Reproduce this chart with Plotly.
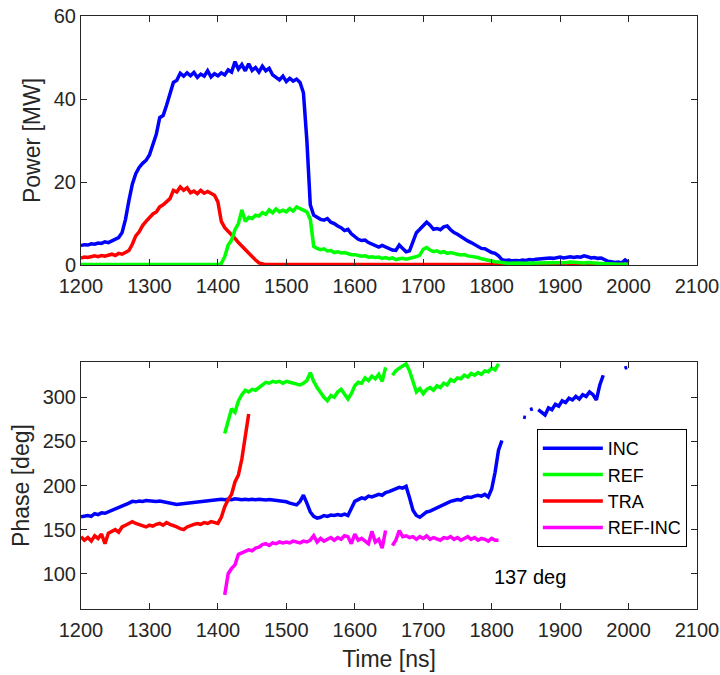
import plotly.graph_objects as go
from plotly.subplots import make_subplots

# ---- Power traces, sampled every 5 ns from 1200 to 2000 ns ----
t_pow = list(range(1200, 2001, 5))

p_inc = [
    4.7, 4.9, 4.8, 5.1, 5.0, 5.3, 5.2, 5.6, 5.4, 5.8,
    6.0, 6.6, 7.8, 11.0, 15.5, 19.5, 22.0, 23.5, 24.5, 25.2,
    26.5, 29.0, 31.5, 35.5, 36.0, 38.5, 41.0, 44.0, 44.5, 46.2,
    45.5, 46.3, 45.6, 46.4, 45.2, 46.0, 45.5, 46.8, 45.3, 46.1,
    45.6, 46.3, 45.8, 47.0, 46.5, 49.0, 47.2, 48.3, 46.8, 48.5,
    46.9, 47.6, 46.5, 47.9, 46.8, 47.4, 45.8, 45.2, 44.6, 45.5,
    44.2, 45.0, 44.3, 44.8, 44.0, 41.5, 30.0, 14.5, 12.0, 11.5,
    11.0, 10.8, 11.2, 10.3, 10.0, 9.4, 9.0, 8.3, 8.6, 7.5,
    6.8, 6.2, 5.9, 6.0, 5.4, 5.0, 4.6, 4.3, 4.7, 4.3,
    3.9, 3.6, 3.5, 4.8, 4.0, 3.2, 3.4, 5.8, 7.8, 8.6,
    9.6, 10.3, 9.6, 8.6, 8.8, 8.5, 9.2, 9.4, 8.5, 7.8,
    7.4, 6.8, 6.4, 5.8, 5.4, 5.0, 4.4, 4.0, 3.9, 3.4,
    3.0, 2.8, 2.2, 1.3, 1.1, 1.2, 1.0, 1.1, 1.0, 1.2,
    1.1, 1.3, 1.2, 1.4, 1.5, 1.4, 1.6, 1.7, 1.6, 1.8,
    1.9, 1.7, 1.9, 2.0, 1.8, 2.0, 1.9, 2.2, 2.0, 1.7,
    1.8, 1.6, 1.7, 1.2, 0.9, 0.8, 0.6, 0.7, 0.5, 1.2,
    0.6,
]

p_ref = [
    0.1, 0.1, 0.1, 0.1, 0.1, 0.1, 0.1, 0.1, 0.1, 0.1,
    0.1, 0.1, 0.1, 0.1, 0.1, 0.1, 0.1, 0.1, 0.1, 0.1,
    0.1, 0.1, 0.1, 0.1, 0.1, 0.1, 0.1, 0.1, 0.1, 0.1,
    0.1, 0.1, 0.1, 0.1, 0.1, 0.1, 0.1, 0.1, 0.1, 0.1,
    0.1, 0.4, 2.0, 4.8, 6.0, 8.5, 10.0, 13.3, 10.5, 11.5,
    11.2, 12.0, 11.8, 12.6, 12.2, 13.3, 12.6, 13.5, 12.8, 13.2,
    12.8, 13.6, 13.0, 14.0, 13.6, 13.2, 12.8, 11.0, 4.5, 4.0,
    3.7, 3.9, 3.4, 3.5, 3.0, 3.2, 2.9, 3.0, 2.7, 2.5,
    2.5, 2.3, 2.1, 2.2, 1.9, 2.0, 1.8, 1.9, 1.6, 1.8,
    1.5, 1.7, 1.3, 1.5, 1.6, 1.4, 1.5, 1.8, 2.0, 2.4,
    3.8, 4.2, 3.6, 3.2, 3.4, 3.0, 3.2, 2.8, 3.0, 2.7,
    2.6, 2.4, 2.5, 2.2, 2.1, 1.9, 1.8, 1.5, 1.3, 1.0,
    0.9, 0.8, 0.7, 0.5, 0.5, 0.4, 0.5, 0.4, 0.5, 0.4,
    0.4, 0.5, 0.4, 0.5, 0.6, 0.5, 0.6, 0.5, 0.6, 0.5,
    0.6, 0.5, 0.6, 0.7, 0.6, 0.5, 0.6, 0.5, 0.6, 0.5,
    0.5, 0.4, 0.4, 0.3, 0.3, 0.2, 0.2, 0.2, 0.2, 0.2,
    0.2,
]

p_tra = [
    1.7, 1.9, 1.8, 2.0, 2.2, 2.0, 2.3, 2.1, 2.4, 2.6,
    2.3, 2.8, 2.6, 3.0, 3.5, 5.0, 7.0, 8.0, 9.5, 10.5,
    11.5, 12.3, 12.8, 14.0, 14.5, 15.2, 16.0, 18.0, 17.6, 18.8,
    18.0, 18.6, 17.4, 17.8, 17.2, 18.0, 17.3, 17.7, 17.2, 16.8,
    15.2, 10.5, 9.0, 8.2, 7.3, 6.4, 5.4, 4.5, 3.6, 2.8,
    2.0, 1.2, 0.5, 0.2, 0.1, 0.1, 0.1, 0.1, 0.1, 0.1,
    0.1, 0.1, 0.1, 0.1, 0.1, 0.1, 0.1, 0.1, 0.1, 0.1,
    0.1, 0.1, 0.1, 0.1, 0.1, 0.1, 0.1, 0.1, 0.1, 0.1,
    0.1, 0.1, 0.1, 0.1, 0.1, 0.1, 0.1, 0.1, 0.1, 0.1,
    0.1, 0.1, 0.1, 0.1, 0.1, 0.1, 0.1, 0.1, 0.1, 0.1,
    0.1, 0.1, 0.1, 0.1, 0.1, 0.1, 0.1, 0.1, 0.1, 0.1,
    0.1, 0.1, 0.1, 0.1, 0.1, 0.1, 0.1, 0.1, 0.1, 0.1,
    0.1, 0.1, 0.1, 0.1, 0.1, 0.1, 0.1, 0.1, 0.1, 0.1,
    0.1, 0.1, 0.1, 0.1, 0.1, 0.1, 0.1, 0.1, 0.1, 0.1,
    0.1, 0.1, 0.1, 0.1, 0.1, 0.1, 0.1, 0.1, 0.1, 0.1,
    0.1, 0.1, 0.1, 0.1, 0.1, 0.1, 0.1, 0.1, 0.1, 0.1,
    0.1,
]

# ---- Phase traces (deg); None marks where the phase leaves the window ----
t_inc_main = list(range(1200, 1820, 5))
ph_inc_main = [
    164.5, 165.5, 166, 165, 168, 167, 169, 168.5, 170, 172,
    173, 175, 176, 178, 180, 182, 181.5, 182.5, 182, 183,
    182.5, 183, 182, 182.5, 181.5, 180.5, 179.5, 179, 178.5, 179,
    179.5, 180, 180.5, 181, 181, 182, 182.5, 183, 183.5, 184,
    184, 184.5, 184, 184.5, 184, 185, 184.5, 184, 184.5, 184,
    184.5, 184, 184.5, 184, 183.5, 184, 183.5, 183, 183.5, 182.5,
    181.5, 180, 178.5, 178, 182, 189, 180, 170, 165, 163,
    164, 166, 165, 166.5, 166, 167, 166, 167.5, 166, 174,
    182, 184, 186, 185, 188, 187, 189, 190, 189, 192,
    193, 195, 196, 198, 197, 199, 186, 172, 166, 164,
    167, 170, 171, 173, 175, 177, 179, 180, 182, 183,
    184, 183.5, 186, 187, 186.5, 188, 189, 188, 190, 187,
    196, 215, 240, 251,
]
t_inc_tail = [1846, 1850, 1856, 1860] + list(range(1868, 1968, 5)) + [1994, 1998]
ph_inc_tail = [
    277.5, 277, 286, 287,
    286, 283, 280, 288, 286, 292, 290, 296, 294, 299,
    297, 301, 298, 303, 301, 306, 303, 297, 314, 325,
    333, 334,
]
tail_breaks = [2, 4, 24]  # positions in the tail where a new piece starts

t_ph = list(range(1410, 1815, 5))
ph_ref = [
    259, 275, 287, 283, 296, 303, 308, 306, 309, 308,
    311, 315, 317, 316, 318, 317, 318, 316, 318, 317,
    316, 315, 314, 316, 319, 328, 318, 311, 305, 300,
    296, 302, 300, 306, 309, 303, 298, 304, 313, 317,
    316, 322, 319, 324, 321, 326, 318, 334, None, 325,
    330, 333, 336, 338, 330, 318, 306, 310, 304, 309,
    311, 308, 313, 311, 316, 314, 320, 318, 322, 321,
    325, 323, 327, 325, 328, 326, 330, 329, 333, 331,
    338,
]
ph_ref_inc = [
    76, 100, 106, 110, 122, 124, 125, 127, 126, 129,
    130, 133, 134, 132, 135, 134, 136, 135, 136, 135,
    137, 136, 135, 137, 136, 138, 143, 136, 140, 137,
    139, 141, 138, 141, 139, 143, 142, 134, 145, 138,
    140, 137, 134, 148, 136, 139, 129, 149, None, 132,
    138, 149, 142, 143, 141, 142, 139, 142, 140, 143,
    139, 141, 140, 138, 141, 140, 142, 139, 141, 138,
    140, 142, 139, 141, 138, 140, 139, 137, 140, 138,
    138,
]

t_tra_ph = list(range(1200, 1450, 5))
ph_tra = [
    142, 138, 141, 137, 143, 140, 145, 134, 146, 148,
    150, 147, 153, 155, 157, 159, 157, 156, 154, 153,
    155, 154, 156, 157, 155, 158, 156, 155, 153, 151,
    150, 153, 155, 156, 157, 156, 158, 157, 159, 158,
    157, 164, 176, 184, 190, 204, 212, 230, 256, 281,
]

# assemble the INC phase trace with breaks between its pieces
t_inc_ph = t_inc_main + [None]
v_inc_ph = ph_inc_main + [None]
for i, (tt, vv) in enumerate(zip(t_inc_tail, ph_inc_tail)):
    if i in tail_breaks:
        t_inc_ph.append(None)
        v_inc_ph.append(None)
    t_inc_ph.append(tt)
    v_inc_ph.append(vv)

BLUE, GREEN, RED, MAGENTA = "#0000FF", "#00FF00", "#FF0000", "#FF00FF"
LW = 3.5
FONT = "Liberation Sans, Arial, Helvetica, sans-serif"
AXIS_COLOR = "#262626"

fig = make_subplots(rows=2, cols=1, vertical_spacing=0.16)

# power panel
for y, c in ((p_inc, BLUE), (p_tra, RED), (p_ref, GREEN)):
    fig.add_trace(go.Scatter(x=t_pow, y=y, mode="lines", line=dict(color=c, width=LW),
                             showlegend=False), row=1, col=1)

# phase panel
fig.add_trace(go.Scatter(x=t_inc_ph, y=v_inc_ph, mode="lines", name="INC",
                         line=dict(color=BLUE, width=LW), connectgaps=False), row=2, col=1)
fig.add_trace(go.Scatter(x=t_ph, y=ph_ref, mode="lines", name="REF",
                         line=dict(color=GREEN, width=LW), connectgaps=False), row=2, col=1)
fig.add_trace(go.Scatter(x=t_tra_ph, y=ph_tra, mode="lines", name="TRA",
                         line=dict(color=RED, width=LW)), row=2, col=1)
fig.add_trace(go.Scatter(x=t_ph, y=ph_ref_inc, mode="lines", name="REF-INC",
                         line=dict(color=MAGENTA, width=LW), connectgaps=False), row=2, col=1)

axis_style = dict(showline=True, linecolor=AXIS_COLOR, linewidth=1, mirror="ticks",
                  ticks="inside", ticklen=6, tickcolor=AXIS_COLOR, showgrid=False,
                  zeroline=False, automargin=False,
                  tickfont=dict(size=20, color=AXIS_COLOR, family=FONT),
                  title_font=dict(size=23, color=AXIS_COLOR, family=FONT))

xticks = [1200, 1300, 1400, 1500, 1600, 1700, 1800, 1900, 2000, 2100]
fig.update_xaxes(range=[1200, 2100], tickvals=xticks, domain=[0, 1],
                 ticklabelstandoff=3, **axis_style)
fig.update_xaxes(title_text="Time [ns]", title_standoff=10, row=2, col=1)
fig.update_yaxes(range=[0, 60], tickvals=[0, 20, 40, 60], domain=[0.5801, 1.0],
                 title_text="Power [MW]", title_standoff=6, row=1, col=1, **axis_style)
fig.update_yaxes(range=[60, 340], tickvals=[100, 150, 200, 250, 300], domain=[0.0, 0.4165],
                 title_text="Phase [deg]", title_standoff=6, row=2, col=1, **axis_style)

fig.add_annotation(x=1856, y=96, xref="x2", yref="y2", text="137 deg", showarrow=False,
                   font=dict(size=20, color="#000000", family=FONT))

fig.update_layout(
    width=720, height=675,
    margin=dict(l=81, r=23, t=16, b=66, autoexpand=False),
    paper_bgcolor="white", plot_bgcolor="white",
    font=dict(family=FONT, color=AXIS_COLOR),
    legend=dict(x=0.740, y=0.3035, xanchor="left", yanchor="top",
                bgcolor="white", bordercolor="#000000", borderwidth=1,
                font=dict(size=18, color="#000000", family=FONT),
                itemwidth=60, tracegroupgap=0),
)

fig.write_html("out.html")
